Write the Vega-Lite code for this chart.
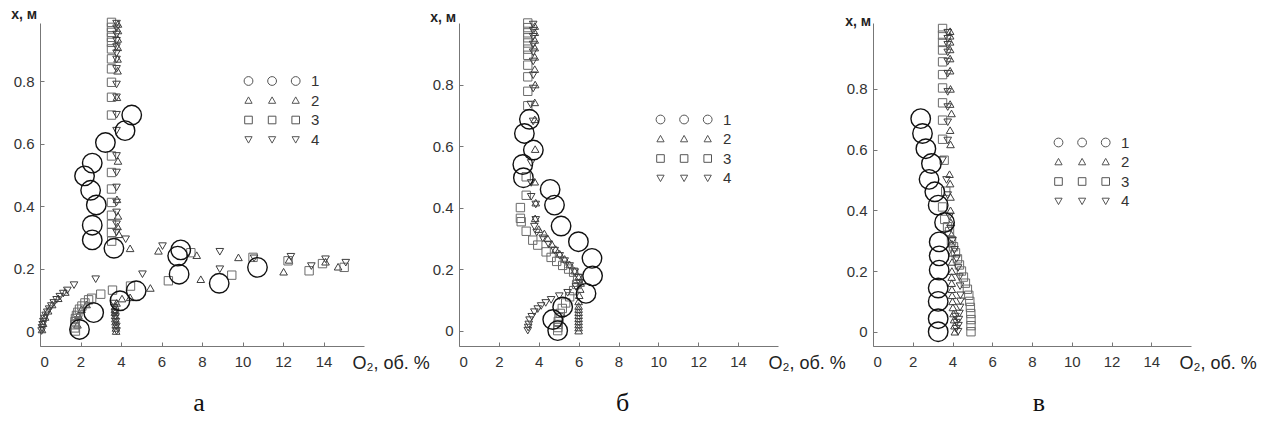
{
"$schema":"https://vega.github.io/schema/vega-lite/v6.json",
"background":"white",
"padding":{"left":10,"top":7,"right":5,"bottom":5},
"spacing":95,
"bounds":"flush",
"config":{
"view":{"stroke":null},
"font":"Liberation Sans",
"axis":{"grid":false,"domainColor":"#777","tickColor":"#777","tickSize":-4,"labelFont":"Liberation Sans","labelFontSize":15,"labelColor":"#333","titleFont":"Liberation Sans","titleColor":"#222"},
"axisX":{"labelPadding":12},
"axisY":{"labelPadding":10},
"legend":{"orient":"none","symbolSize":64,"symbolStrokeWidth":1,"symbolOpacity":1,"symbolStrokeColor":"#555","symbolFillColor":"transparent","labelOffset":55,"rowPadding":3.5,"labelFontSize":15,"labelFont":"Liberation Sans","labelColor":"#333","padding":0}
},
"resolve":{"legend":{"shape":"independent"}},
"datasets":{
"a":[
{"s":"2","o":0.1,"h":0.005},{"s":"2","o":0.15,"h":0.025},{"s":"2","o":0.25,"h":0.045},{"s":"2","o":0.4,"h":0.065},{"s":"2","o":0.6,"h":0.085},{"s":"2","o":0.9,"h":0.105},{"s":"2","o":1.25,"h":0.125},
{"s":"2","o":3.76,"h":0.0},{"s":"2","o":3.75,"h":0.01},{"s":"2","o":3.74,"h":0.02},{"s":"2","o":3.73,"h":0.03},{"s":"2","o":3.72,"h":0.04},{"s":"2","o":3.71,"h":0.05},{"s":"2","o":3.7,"h":0.06},{"s":"2","o":3.7,"h":0.07},{"s":"2","o":3.72,"h":0.08},{"s":"2","o":3.78,"h":0.09},
{"s":"2","o":1.85,"h":0.02},{"s":"2","o":1.9,"h":0.05},{"s":"2","o":2.05,"h":0.07},{"s":"2","o":2.3,"h":0.085},
{"s":"2","o":4.05,"h":0.104},{"s":"2","o":4.45,"h":0.108},{"s":"2","o":5.45,"h":0.138},{"s":"2","o":4.45,"h":0.265},{"s":"2","o":5.85,"h":0.257},{"s":"2","o":7.74,"h":0.243},{"s":"2","o":7.94,"h":0.166},{"s":"2","o":9.8,"h":0.236},{"s":"2","o":12.03,"h":0.19},{"s":"2","o":12.3,"h":0.228},{"s":"2","o":14.1,"h":0.222},{"s":"2","o":14.72,"h":0.206},
{"s":"2","o":3.85,"h":0.984},{"s":"2","o":3.85,"h":0.963},{"s":"2","o":3.84,"h":0.936},{"s":"2","o":3.84,"h":0.909},{"s":"2","o":3.83,"h":0.872},{"s":"2","o":3.83,"h":0.834},{"s":"2","o":3.8,"h":0.749},{"s":"2","o":3.85,"h":0.545},{"s":"2","o":3.8,"h":0.422},{"s":"2","o":3.85,"h":0.369},{"s":"2","o":3.83,"h":0.335},{"s":"2","o":3.9,"h":0.31},
{"s":"3","o":1.75,"h":0.0},{"s":"3","o":1.72,"h":0.01},{"s":"3","o":1.72,"h":0.02},{"s":"3","o":1.73,"h":0.03},{"s":"3","o":1.75,"h":0.04},{"s":"3","o":1.8,"h":0.05},{"s":"3","o":1.87,"h":0.06},{"s":"3","o":1.95,"h":0.07},{"s":"3","o":2.07,"h":0.08},{"s":"3","o":2.22,"h":0.09},{"s":"3","o":2.4,"h":0.1},{"s":"3","o":2.55,"h":0.105},
{"s":"3","o":3.0,"h":0.118},{"s":"3","o":3.58,"h":0.131},{"s":"3","o":4.47,"h":0.144},{"s":"3","o":6.34,"h":0.161},{"s":"3","o":7.45,"h":0.251},{"s":"3","o":9.47,"h":0.179},{"s":"3","o":10.52,"h":0.236},{"s":"3","o":12.25,"h":0.225},{"s":"3","o":13.29,"h":0.193},{"s":"3","o":13.95,"h":0.216},{"s":"3","o":15.02,"h":0.204},
{"s":"3","o":3.53,"h":0.989},{"s":"3","o":3.53,"h":0.973},{"s":"3","o":3.53,"h":0.957},{"s":"3","o":3.53,"h":0.941},{"s":"3","o":3.53,"h":0.925},{"s":"3","o":3.53,"h":0.904},{"s":"3","o":3.53,"h":0.872},{"s":"3","o":3.53,"h":0.84},{"s":"3","o":3.53,"h":0.797},{"s":"3","o":3.53,"h":0.749},{"s":"3","o":3.53,"h":0.692},{"s":"3","o":3.53,"h":0.561},{"s":"3","o":3.53,"h":0.508},{"s":"3","o":3.53,"h":0.455},{"s":"3","o":3.53,"h":0.412},{"s":"3","o":3.53,"h":0.371},{"s":"3","o":3.53,"h":0.342},{"s":"3","o":3.53,"h":0.316},{"s":"3","o":3.54,"h":0.288},
{"s":"4","o":0.08,"h":0.0},{"s":"4","o":0.1,"h":0.01},{"s":"4","o":0.13,"h":0.02},{"s":"4","o":0.17,"h":0.03},{"s":"4","o":0.22,"h":0.04},{"s":"4","o":0.28,"h":0.05},{"s":"4","o":0.36,"h":0.06},{"s":"4","o":0.45,"h":0.07},{"s":"4","o":0.56,"h":0.08},{"s":"4","o":0.68,"h":0.09},{"s":"4","o":0.82,"h":0.1},{"s":"4","o":0.98,"h":0.11},{"s":"4","o":1.15,"h":0.12},{"s":"4","o":1.35,"h":0.13},{"s":"4","o":1.68,"h":0.147},
{"s":"4","o":3.78,"h":0.0},{"s":"4","o":3.77,"h":0.015},{"s":"4","o":3.75,"h":0.03},{"s":"4","o":3.73,"h":0.045},{"s":"4","o":3.7,"h":0.06},{"s":"4","o":3.68,"h":0.075},{"s":"4","o":3.66,"h":0.088},
{"s":"4","o":2.75,"h":0.166},{"s":"4","o":5.06,"h":0.182},{"s":"4","o":6.05,"h":0.272},{"s":"4","o":8.88,"h":0.254},{"s":"4","o":8.88,"h":0.198},{"s":"4","o":10.57,"h":0.233},{"s":"4","o":12.39,"h":0.238},{"s":"4","o":13.4,"h":0.208},{"s":"4","o":14.1,"h":0.23},{"s":"4","o":15.1,"h":0.219},{"s":"4","o":4.23,"h":0.294},
{"s":"4","o":3.78,"h":0.985},{"s":"4","o":3.78,"h":0.97},{"s":"4","o":3.78,"h":0.95},{"s":"4","o":3.78,"h":0.93},{"s":"4","o":3.78,"h":0.91},{"s":"4","o":3.78,"h":0.89},{"s":"4","o":3.78,"h":0.87},{"s":"4","o":3.78,"h":0.84},{"s":"4","o":3.78,"h":0.79},{"s":"4","o":3.78,"h":0.749},{"s":"4","o":3.78,"h":0.693},{"s":"4","o":3.78,"h":0.642},{"s":"4","o":3.78,"h":0.561},{"s":"4","o":3.78,"h":0.508},{"s":"4","o":3.78,"h":0.46},{"s":"4","o":3.78,"h":0.412},{"s":"4","o":3.78,"h":0.38},{"s":"4","o":3.78,"h":0.342},{"s":"4","o":3.78,"h":0.316},
{"s":"1","o":1.95,"h":0.005},{"s":"1","o":2.65,"h":0.059},{"s":"1","o":3.95,"h":0.097},{"s":"1","o":4.75,"h":0.129},{"s":"1","o":8.85,"h":0.153},{"s":"1","o":6.87,"h":0.182},{"s":"1","o":10.74,"h":0.204},{"s":"1","o":6.8,"h":0.24},{"s":"1","o":6.95,"h":0.26},{"s":"1","o":3.65,"h":0.265},{"s":"1","o":2.58,"h":0.292},{"s":"1","o":2.58,"h":0.339},{"s":"1","o":2.78,"h":0.404},{"s":"1","o":2.5,"h":0.451},{"s":"1","o":2.2,"h":0.497},{"s":"1","o":2.58,"h":0.538},{"s":"1","o":3.23,"h":0.604},{"s":"1","o":4.2,"h":0.642},{"s":"1","o":4.53,"h":0.692}
],
"b":[
{"s":"2","o":3.8,"h":0.99},{"s":"2","o":3.8,"h":0.97},{"s":"2","o":3.8,"h":0.945},{"s":"2","o":3.8,"h":0.92},{"s":"2","o":3.8,"h":0.89},{"s":"2","o":3.8,"h":0.85},{"s":"2","o":3.82,"h":0.8},{"s":"2","o":3.8,"h":0.742},{"s":"2","o":3.8,"h":0.687},{"s":"2","o":3.82,"h":0.59},{"s":"2","o":3.8,"h":0.484},{"s":"2","o":3.85,"h":0.416},{"s":"2","o":3.82,"h":0.365},
{"s":"2","o":4.0,"h":0.33},{"s":"2","o":4.28,"h":0.316},{"s":"2","o":4.45,"h":0.3},{"s":"2","o":4.65,"h":0.282},{"s":"2","o":4.85,"h":0.265},{"s":"2","o":5.05,"h":0.25},{"s":"2","o":5.3,"h":0.233},{"s":"2","o":5.55,"h":0.215},{"s":"2","o":5.8,"h":0.195},{"s":"2","o":6.0,"h":0.175},{"s":"2","o":6.1,"h":0.155},{"s":"2","o":6.08,"h":0.135},{"s":"2","o":6.03,"h":0.115},{"s":"2","o":6.0,"h":0.095},{"s":"2","o":6.0,"h":0.08},{"s":"2","o":6.0,"h":0.07},{"s":"2","o":6.0,"h":0.06},{"s":"2","o":6.0,"h":0.05},{"s":"2","o":6.0,"h":0.04},{"s":"2","o":6.0,"h":0.03},{"s":"2","o":6.0,"h":0.02},{"s":"2","o":6.0,"h":0.01},{"s":"2","o":6.0,"h":0.0},
{"s":"3","o":3.45,"h":1.0},{"s":"3","o":3.45,"h":0.985},{"s":"3","o":3.45,"h":0.968},{"s":"3","o":3.45,"h":0.952},{"s":"3","o":3.45,"h":0.935},{"s":"3","o":3.45,"h":0.915},{"s":"3","o":3.45,"h":0.895},{"s":"3","o":3.45,"h":0.863},{"s":"3","o":3.45,"h":0.825},{"s":"3","o":3.45,"h":0.778},{"s":"3","o":3.45,"h":0.731},
{"s":"3","o":3.37,"h":0.5},{"s":"3","o":3.37,"h":0.44},{"s":"3","o":3.08,"h":0.4},{"s":"3","o":3.08,"h":0.365},{"s":"3","o":3.12,"h":0.354},{"s":"3","o":3.37,"h":0.323},{"s":"3","o":3.7,"h":0.294},{"s":"3","o":3.95,"h":0.278},{"s":"3","o":4.37,"h":0.256},{"s":"3","o":4.62,"h":0.238},{"s":"3","o":4.9,"h":0.225},{"s":"3","o":5.2,"h":0.212},{"s":"3","o":5.5,"h":0.2},{"s":"3","o":5.75,"h":0.19},{"s":"3","o":5.95,"h":0.17},{"s":"3","o":5.9,"h":0.15},{"s":"3","o":5.75,"h":0.13},{"s":"3","o":5.55,"h":0.11},{"s":"3","o":5.35,"h":0.09},{"s":"3","o":5.18,"h":0.072},{"s":"3","o":5.08,"h":0.056},{"s":"3","o":5.02,"h":0.042},{"s":"3","o":4.98,"h":0.03},{"s":"3","o":4.97,"h":0.02},{"s":"3","o":4.96,"h":0.01},{"s":"3","o":4.95,"h":0.0},
{"s":"4","o":3.72,"h":0.995},{"s":"4","o":3.72,"h":0.975},{"s":"4","o":3.72,"h":0.955},{"s":"4","o":3.72,"h":0.93},{"s":"4","o":3.72,"h":0.905},{"s":"4","o":3.72,"h":0.875},{"s":"4","o":3.72,"h":0.83},{"s":"4","o":3.72,"h":0.787},{"s":"4","o":3.6,"h":0.735},{"s":"4","o":3.72,"h":0.68},{"s":"4","o":3.62,"h":0.545},{"s":"4","o":3.62,"h":0.48},{"s":"4","o":3.62,"h":0.435},
{"s":"4","o":3.85,"h":0.41},{"s":"4","o":3.85,"h":0.36},{"s":"4","o":3.78,"h":0.338},{"s":"4","o":3.9,"h":0.319},{"s":"4","o":4.2,"h":0.3},{"s":"4","o":4.5,"h":0.28},{"s":"4","o":4.8,"h":0.26},{"s":"4","o":5.05,"h":0.243},{"s":"4","o":5.3,"h":0.226},{"s":"4","o":5.55,"h":0.21},{"s":"4","o":5.8,"h":0.19},{"s":"4","o":6.0,"h":0.172},{"s":"4","o":6.05,"h":0.155},
{"s":"4","o":5.87,"h":0.142},{"s":"4","o":5.45,"h":0.123},{"s":"4","o":5.03,"h":0.112},{"s":"4","o":4.62,"h":0.1},{"s":"4","o":4.35,"h":0.09},{"s":"4","o":4.12,"h":0.08},{"s":"4","o":3.95,"h":0.07},{"s":"4","o":3.78,"h":0.06},{"s":"4","o":3.65,"h":0.045},{"s":"4","o":3.54,"h":0.034},{"s":"4","o":3.5,"h":0.02},{"s":"4","o":3.47,"h":0.01},{"s":"4","o":3.45,"h":0.0},
{"s":"1","o":3.53,"h":0.687},{"s":"1","o":3.28,"h":0.641},{"s":"1","o":3.73,"h":0.587},{"s":"1","o":3.2,"h":0.54},{"s":"1","o":3.23,"h":0.497},{"s":"1","o":4.57,"h":0.459},{"s":"1","o":4.79,"h":0.408},{"s":"1","o":5.12,"h":0.34},{"s":"1","o":5.99,"h":0.289},{"s":"1","o":6.67,"h":0.235},{"s":"1","o":6.7,"h":0.178},{"s":"1","o":6.37,"h":0.121},{"s":"1","o":5.2,"h":0.077},{"s":"1","o":4.7,"h":0.036},{"s":"1","o":4.95,"h":0.0}
],
"v":[
{"s":"2","o":3.88,"h":0.99},{"s":"2","o":3.88,"h":0.975},{"s":"2","o":3.88,"h":0.955},{"s":"2","o":3.88,"h":0.93},{"s":"2","o":3.88,"h":0.9},{"s":"2","o":3.88,"h":0.86},{"s":"2","o":3.9,"h":0.8},{"s":"2","o":3.88,"h":0.75},{"s":"2","o":3.95,"h":0.719},{"s":"2","o":3.88,"h":0.664},{"s":"2","o":3.9,"h":0.617},{"s":"2","o":3.85,"h":0.519},{"s":"2","o":3.88,"h":0.488},{"s":"2","o":3.9,"h":0.444},
{"s":"2","o":3.9,"h":0.4},{"s":"2","o":3.92,"h":0.36},{"s":"2","o":3.95,"h":0.32},{"s":"2","o":3.97,"h":0.29},{"s":"2","o":3.98,"h":0.26},{"s":"2","o":3.98,"h":0.23},{"s":"2","o":3.97,"h":0.2},{"s":"2","o":3.96,"h":0.18},{"s":"2","o":3.96,"h":0.16},{"s":"2","o":3.97,"h":0.14},{"s":"2","o":3.98,"h":0.12},{"s":"2","o":4.0,"h":0.1},{"s":"2","o":4.02,"h":0.08},{"s":"2","o":4.05,"h":0.06},{"s":"2","o":4.08,"h":0.04},{"s":"2","o":4.1,"h":0.02},{"s":"2","o":4.12,"h":0.0},
{"s":"3","o":3.5,"h":0.999},{"s":"3","o":3.5,"h":0.977},{"s":"3","o":3.5,"h":0.953},{"s":"3","o":3.5,"h":0.928},{"s":"3","o":3.5,"h":0.889},{"s":"3","o":3.5,"h":0.847},{"s":"3","o":3.5,"h":0.803},{"s":"3","o":3.5,"h":0.754},{"s":"3","o":3.5,"h":0.697},{"s":"3","o":3.5,"h":0.634},
{"s":"3","o":3.58,"h":0.565},{"s":"3","o":3.66,"h":0.463},{"s":"3","o":3.5,"h":0.411},{"s":"3","o":3.61,"h":0.37},{"s":"3","o":3.75,"h":0.346},{"s":"3","o":3.85,"h":0.33},{"s":"3","o":3.95,"h":0.3},{"s":"3","o":4.05,"h":0.28},{"s":"3","o":4.15,"h":0.26},{"s":"3","o":4.25,"h":0.24},{"s":"3","o":4.35,"h":0.22},{"s":"3","o":4.45,"h":0.2},{"s":"3","o":4.55,"h":0.18},{"s":"3","o":4.65,"h":0.16},{"s":"3","o":4.75,"h":0.14},{"s":"3","o":4.82,"h":0.12},{"s":"3","o":4.87,"h":0.1},{"s":"3","o":4.9,"h":0.08},{"s":"3","o":4.92,"h":0.06},{"s":"3","o":4.93,"h":0.04},{"s":"3","o":4.93,"h":0.02},{"s":"3","o":4.93,"h":0.0},
{"s":"4","o":3.76,"h":0.985},{"s":"4","o":3.76,"h":0.965},{"s":"4","o":3.76,"h":0.945},{"s":"4","o":3.76,"h":0.92},{"s":"4","o":3.76,"h":0.89},{"s":"4","o":3.76,"h":0.85},{"s":"4","o":3.76,"h":0.79},{"s":"4","o":3.76,"h":0.74},{"s":"4","o":3.76,"h":0.69},{"s":"4","o":3.76,"h":0.63},{"s":"4","o":3.5,"h":0.565},{"s":"4","o":3.7,"h":0.5},{"s":"4","o":3.76,"h":0.45},
{"s":"4","o":3.85,"h":0.38},{"s":"4","o":3.9,"h":0.34},{"s":"4","o":4.0,"h":0.3},{"s":"4","o":4.1,"h":0.27},{"s":"4","o":4.2,"h":0.24},{"s":"4","o":4.28,"h":0.21},{"s":"4","o":4.35,"h":0.18},{"s":"4","o":4.38,"h":0.15},{"s":"4","o":4.4,"h":0.12},{"s":"4","o":4.4,"h":0.1},{"s":"4","o":4.38,"h":0.08},{"s":"4","o":4.35,"h":0.06},{"s":"4","o":4.32,"h":0.04},{"s":"4","o":4.3,"h":0.02},{"s":"4","o":4.28,"h":0.0},{"s":"4","o":4.15,"h":0.05},{"s":"4","o":4.2,"h":0.03},{"s":"4","o":4.18,"h":0.01},
{"s":"1","o":2.4,"h":0.702},{"s":"1","o":2.49,"h":0.653},{"s":"1","o":2.66,"h":0.603},{"s":"1","o":2.94,"h":0.554},{"s":"1","o":2.82,"h":0.502},{"s":"1","o":3.11,"h":0.461},{"s":"1","o":3.28,"h":0.417},{"s":"1","o":3.6,"h":0.36},{"s":"1","o":3.33,"h":0.296},{"s":"1","o":3.33,"h":0.25},{"s":"1","o":3.33,"h":0.203},{"s":"1","o":3.28,"h":0.144},{"s":"1","o":3.28,"h":0.1},{"s":"1","o":3.28,"h":0.043},{"s":"1","o":3.28,"h":0.0}
]
},
"hconcat":[
{
"data":{"name":"a"},
"width":324,"height":323,
"title":{"text":"а","orient":"bottom","anchor":"middle","font":"Liberation Serif","fontSize":26,"fontWeight":"normal","color":"#111","offset":18,"dx":-3},
"encoding":{
"x":{"field":"o","type":"quantitative","scale":{"domain":[0,16],"nice":false,"zero":false},"axis":{"values":[0,2,4,6,8,10,12,14],"title":"O₂, об. %","titleX":312,"titleY":22,"titleAlign":"left","titleBaseline":"alphabetic","titleFontSize":18,"titleFontWeight":"normal"}},
"y":{"field":"h","type":"quantitative","scale":{"domain":[-0.048,0.987],"nice":false,"zero":false},"axis":{"values":[0,0.2,0.4,0.6,0.8],"labelExpr":"datum.value==0?'0':datum.label","title":"x, м","titleAngle":0,"titleX":-29.3,"titleY":-9,"titleAlign":"left","titleBaseline":"middle","titleFontSize":14,"titleFontWeight":"bold"}}
},
"layer":[
{"mark":{"type":"point","filled":false,"opacity":1},
"encoding":{
"shape":{"condition":[{"test":"datum.s=='1'","value":"circle"},{"test":"datum.s=='2'","value":"triangle-up"},{"test":"datum.s=='3'","value":"square"}],"value":"triangle-down"},
"size":{"condition":[{"test":"datum.s=='1'","value":380},{"test":"datum.s=='3'","value":70}],"value":58},
"color":{"condition":[{"test":"datum.s=='1'","value":"#111"},{"test":"datum.s=='3'","value":"#6a6a6a"}],"value":"#3d3d3d"},
"strokeWidth":{"condition":{"test":"datum.s=='1'","value":1.4},"value":1}
}},
{"mark":{"type":"point","filled":false,"opacity":0,"color":"#555","strokeWidth":1},
"encoding":{
"shape":{"field":"s","type":"nominal","scale":{"domain":["1","2","3","4"],"range":["M1.1,0A1.1,1.1,0,1,1,-1.1,0A1.1,1.1,0,1,1,1.1,0Z M7,0A1.1,1.1,0,1,1,4.8,0A1.1,1.1,0,1,1,7,0Z M12.9,0A1.1,1.1,0,1,1,10.7,0A1.1,1.1,0,1,1,12.9,0Z","M0,-0.9L0.9,0.7L-0.9,0.7Z M5.9,-0.9L6.8,0.7L5,0.7Z M11.8,-0.9L12.7,0.7L10.9,0.7Z","M-0.95,-0.95H0.95V0.95H-0.95Z M4.95,-0.95H6.85V0.95H4.95Z M10.85,-0.95H12.75V0.95H10.85Z","M0,0.9L0.9,-0.7L-0.9,-0.7Z M5.9,0.9L6.8,-0.7L5,-0.7Z M11.8,0.9L12.7,-0.7L10.9,-0.7Z"]},
"legend":{"orient":"none","legendX":201,"legendY":50.5,"title":null}}
}}
]
},
{
"data":{"name":"b"},
"width":319,"height":323,
"title":{"text":"б","orient":"bottom","anchor":"middle","font":"Liberation Serif","fontSize":26,"fontWeight":"normal","color":"#111","offset":18,"dx":4},
"encoding":{
"x":{"field":"o","type":"quantitative","scale":{"domain":[0,16],"nice":false,"zero":false},"axis":{"values":[0,2,4,6,8,10,12,14],"title":"O₂, об. %","titleX":309,"titleY":22,"titleAlign":"left","titleBaseline":"alphabetic","titleFontSize":18,"titleFontWeight":"normal"}},
"y":{"field":"h","type":"quantitative","scale":{"domain":[-0.05,1.0],"nice":false,"zero":false},"axis":{"values":[0,0.2,0.4,0.6,0.8],"labelExpr":"datum.value==0?'0':datum.label","title":"x, м","titleAngle":0,"titleX":-29.3,"titleY":-6,"titleAlign":"left","titleBaseline":"middle","titleFontSize":14,"titleFontWeight":"bold"}}
},
"layer":[
{"mark":{"type":"point","filled":false,"opacity":1},
"encoding":{
"shape":{"condition":[{"test":"datum.s=='1'","value":"circle"},{"test":"datum.s=='2'","value":"triangle-up"},{"test":"datum.s=='3'","value":"square"}],"value":"triangle-down"},
"size":{"condition":[{"test":"datum.s=='1'","value":380},{"test":"datum.s=='3'","value":70}],"value":58},
"color":{"condition":[{"test":"datum.s=='1'","value":"#111"},{"test":"datum.s=='3'","value":"#6a6a6a"}],"value":"#3d3d3d"},
"strokeWidth":{"condition":{"test":"datum.s=='1'","value":1.4},"value":1}
}},
{"mark":{"type":"point","filled":false,"opacity":0,"color":"#555","strokeWidth":1},
"encoding":{
"shape":{"field":"s","type":"nominal","scale":{"domain":["1","2","3","4"],"range":["M1.1,0A1.1,1.1,0,1,1,-1.1,0A1.1,1.1,0,1,1,1.1,0Z M7,0A1.1,1.1,0,1,1,4.8,0A1.1,1.1,0,1,1,7,0Z M12.9,0A1.1,1.1,0,1,1,10.7,0A1.1,1.1,0,1,1,12.9,0Z","M0,-0.9L0.9,0.7L-0.9,0.7Z M5.9,-0.9L6.8,0.7L5,0.7Z M11.8,-0.9L12.7,0.7L10.9,0.7Z","M-0.95,-0.95H0.95V0.95H-0.95Z M4.95,-0.95H6.85V0.95H4.95Z M10.85,-0.95H12.75V0.95H10.85Z","M0,0.9L0.9,-0.7L-0.9,-0.7Z M5.9,0.9L6.8,-0.7L5,-0.7Z M11.8,0.9L12.7,-0.7L10.9,-0.7Z"]},
"legend":{"orient":"none","legendX":194,"legendY":89,"title":null}}
}}
]
},
{
"data":{"name":"v"},
"width":318,"height":323,
"title":{"text":"в","orient":"bottom","anchor":"middle","font":"Liberation Serif","fontSize":26,"fontWeight":"normal","color":"#111","offset":18,"dx":7},
"encoding":{
"x":{"field":"o","type":"quantitative","scale":{"domain":[0,16],"nice":false,"zero":false},"axis":{"values":[0,2,4,6,8,10,12,14],"title":"O₂, об. %","titleX":306,"titleY":22,"titleAlign":"left","titleBaseline":"alphabetic","titleFontSize":18,"titleFontWeight":"normal"}},
"y":{"field":"h","type":"quantitative","scale":{"domain":[-0.047,1.017],"nice":false,"zero":false},"axis":{"values":[0,0.2,0.4,0.6,0.8],"labelExpr":"datum.value==0?'0':datum.label","title":"x, м","titleAngle":0,"titleX":-28.3,"titleY":-1.3,"titleAlign":"left","titleBaseline":"middle","titleFontSize":14,"titleFontWeight":"bold"}}
},
"layer":[
{"mark":{"type":"point","filled":false,"opacity":1},
"encoding":{
"shape":{"condition":[{"test":"datum.s=='1'","value":"circle"},{"test":"datum.s=='2'","value":"triangle-up"},{"test":"datum.s=='3'","value":"square"}],"value":"triangle-down"},
"size":{"condition":[{"test":"datum.s=='1'","value":380},{"test":"datum.s=='3'","value":70}],"value":58},
"color":{"condition":[{"test":"datum.s=='1'","value":"#111"},{"test":"datum.s=='3'","value":"#6a6a6a"}],"value":"#3d3d3d"},
"strokeWidth":{"condition":{"test":"datum.s=='1'","value":1.4},"value":1}
}},
{"mark":{"type":"point","filled":false,"opacity":0,"color":"#555","strokeWidth":1},
"encoding":{
"shape":{"field":"s","type":"nominal","scale":{"domain":["1","2","3","4"],"range":["M1.1,0A1.1,1.1,0,1,1,-1.1,0A1.1,1.1,0,1,1,1.1,0Z M7,0A1.1,1.1,0,1,1,4.8,0A1.1,1.1,0,1,1,7,0Z M12.9,0A1.1,1.1,0,1,1,10.7,0A1.1,1.1,0,1,1,12.9,0Z","M0,-0.9L0.9,0.7L-0.9,0.7Z M5.9,-0.9L6.8,0.7L5,0.7Z M11.8,-0.9L12.7,0.7L10.9,0.7Z","M-0.95,-0.95H0.95V0.95H-0.95Z M4.95,-0.95H6.85V0.95H4.95Z M10.85,-0.95H12.75V0.95H10.85Z","M0,0.9L0.9,-0.7L-0.9,-0.7Z M5.9,0.9L6.8,-0.7L5,-0.7Z M11.8,0.9L12.7,-0.7L10.9,-0.7Z"]},
"legend":{"orient":"none","legendX":178,"legendY":112,"title":null}}
}}
]
}
]
}
